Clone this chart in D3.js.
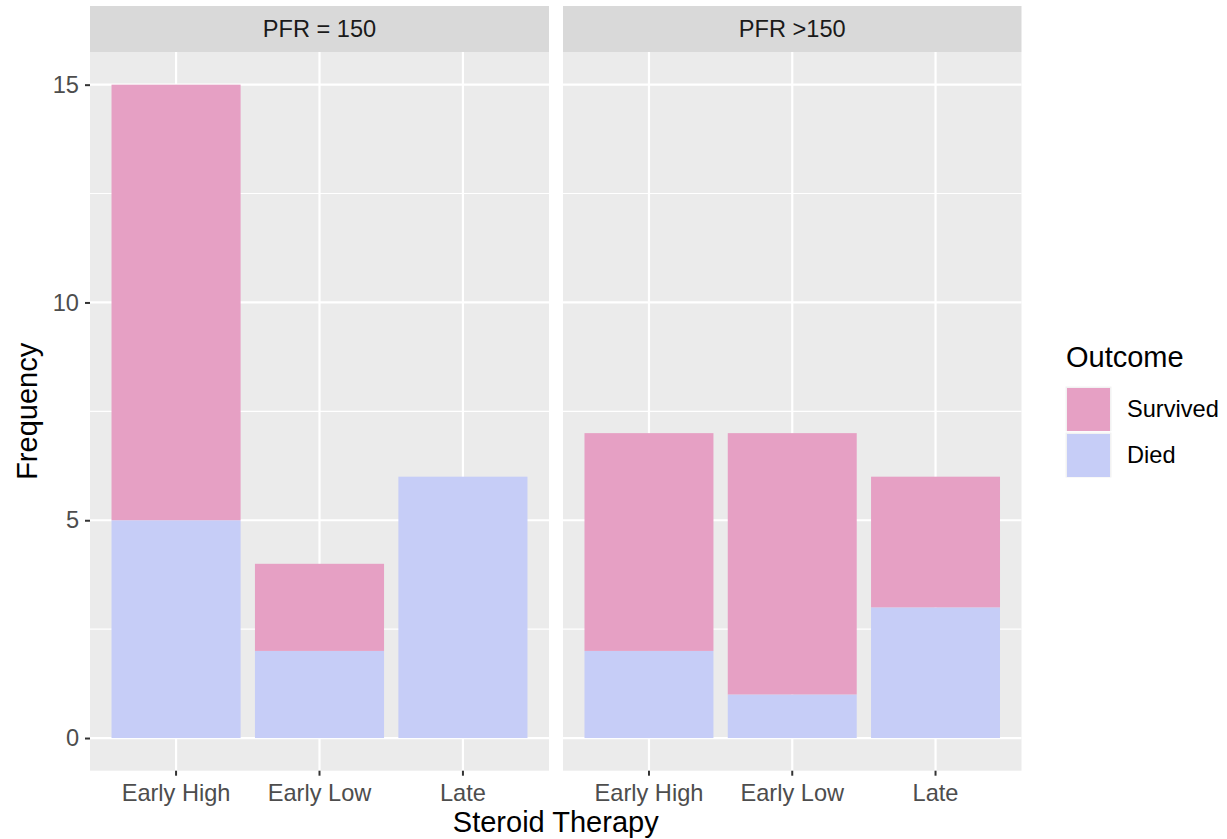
<!DOCTYPE html>
<html><head><meta charset="utf-8">
<script src="https://cdn.jsdelivr.net/npm/d3@7"></script>
<style>body{margin:0;background:#fff;} text{font-family:"Liberation Sans",Arial,sans-serif;}</style>
</head><body>
<svg id="chart" width="1227" height="839"></svg>
<script>
const categories = ["Early High", "Early Low", "Late"];
const facets = ["PFR = 150", "PFR >150"];
const outcomes = ["Survived", "Died"];
const diedLow = [5, 2, 6];
const survivedLow = [10, 2, 0];
const diedHigh = [2, 1, 3];
const survivedHigh = [5, 6, 3];
const yTicks = [0, 5, 10, 15];
const colors = {"Survived": "#E6A0C4", "Died": "#C6CDF7"};

const facetData = [
  {name: facets[0], died: diedLow, survived: survivedLow},
  {name: facets[1], died: diedHigh, survived: survivedHigh}
];

const svg = d3.select("#chart");
const panelTop = 52, panelBottom = 770.7, stripTop = 6;
const panelX = [[90, 549], [563, 1021.5]];
const tickFont = 23.6, titleFont = 29;

const y = d3.scaleLinear().domain([-0.75, 15.75]).range([panelBottom, panelTop]);

facetData.forEach((f, i) => {
  const [x0, x1] = panelX[i];
  const g = svg.append("g");
  g.append("rect").attr("x", x0).attr("y", stripTop).attr("width", x1 - x0).attr("height", panelTop - stripTop).attr("fill", "#D9D9D9");
  g.append("text").attr("x", (x0 + x1) / 2).attr("y", (stripTop + panelTop) / 2).attr("dy", "0.35em")
    .attr("text-anchor", "middle").attr("font-size", tickFont).attr("fill", "#1A1A1A").text(f.name);
  g.append("rect").attr("x", x0).attr("y", panelTop).attr("width", x1 - x0).attr("height", panelBottom - panelTop).attr("fill", "#EBEBEB");
  const x = d3.scalePoint().domain(categories).range([x0, x1]).padding(0.6);
  const step = x.step();
  const bw = step * 0.9;
  [2.5, 7.5, 12.5].forEach(v => {
    g.append("line").attr("x1", x0).attr("x2", x1).attr("y1", y(v)).attr("y2", y(v)).attr("stroke", "#fff").attr("stroke-width", 1.1);
  });
  yTicks.forEach(v => {
    g.append("line").attr("x1", x0).attr("x2", x1).attr("y1", y(v)).attr("y2", y(v)).attr("stroke", "#fff").attr("stroke-width", 2.2);
  });
  categories.forEach(c => {
    g.append("line").attr("x1", x(c)).attr("x2", x(c)).attr("y1", panelTop).attr("y2", panelBottom).attr("stroke", "#fff").attr("stroke-width", 2.2);
  });
  categories.forEach((c, j) => {
    const d = f.died[j], s = f.survived[j];
    g.append("rect").attr("x", x(c) - bw / 2).attr("width", bw)
      .attr("y", y(d)).attr("height", y(0) - y(d)).attr("fill", colors["Died"]);
    if (s > 0) g.append("rect").attr("x", x(c) - bw / 2).attr("width", bw)
      .attr("y", y(d + s)).attr("height", y(d) - y(d + s)).attr("fill", colors["Survived"]);
  });
  categories.forEach(c => {
    g.append("line").attr("x1", x(c)).attr("x2", x(c)).attr("y1", panelBottom).attr("y2", panelBottom + 5).attr("stroke", "#333").attr("stroke-width", 2);
    g.append("text").attr("x", x(c)).attr("y", 800.5).attr("text-anchor", "middle").attr("font-size", tickFont).attr("fill", "#4D4D4D").text(c);
  });
  if (i === 0) {
    const ya = d3.axisLeft(y).tickValues(yTicks).tickSize(5).tickPadding(6);
    const ag = svg.append("g").attr("transform", `translate(${x0},0)`).call(ya);
    ag.select(".domain").remove();
    ag.selectAll(".tick line").attr("stroke", "#333").attr("stroke-width", 2);
    ag.selectAll(".tick text").attr("font-size", tickFont).attr("fill", "#4D4D4D").attr("font-family", "Liberation Sans, Arial, sans-serif");
  }
});

svg.append("text").attr("x", (90 + 1021.5) / 2).attr("y", 832).attr("text-anchor", "middle").attr("font-size", titleFont).attr("fill", "#000").text("Steroid Therapy");
svg.append("text").attr("transform", `translate(37,${(panelTop + panelBottom) / 2}) rotate(-90)`).attr("text-anchor", "middle").attr("font-size", titleFont).attr("fill", "#000").text("Frequency");

const lg = svg.append("g");
lg.append("text").attr("x", 1066).attr("y", 367).attr("font-size", titleFont).attr("fill", "#000").text("Outcome");
outcomes.forEach((o, k) => {
  const ky = 386 + k * 46;
  lg.append("rect").attr("x", 1065).attr("y", ky).attr("width", 47).attr("height", 46).attr("fill", "#F2F2F2").attr("stroke", "#fff").attr("stroke-width", 1);
  lg.append("rect").attr("x", 1067).attr("y", ky + 2).attr("width", 43).attr("height", 43).attr("fill", colors[o]);
  lg.append("text").attr("x", 1127).attr("y", ky + 23).attr("dy", "0.35em").attr("font-size", tickFont).attr("fill", "#000").text(o);
});
</script>
</body></html>
